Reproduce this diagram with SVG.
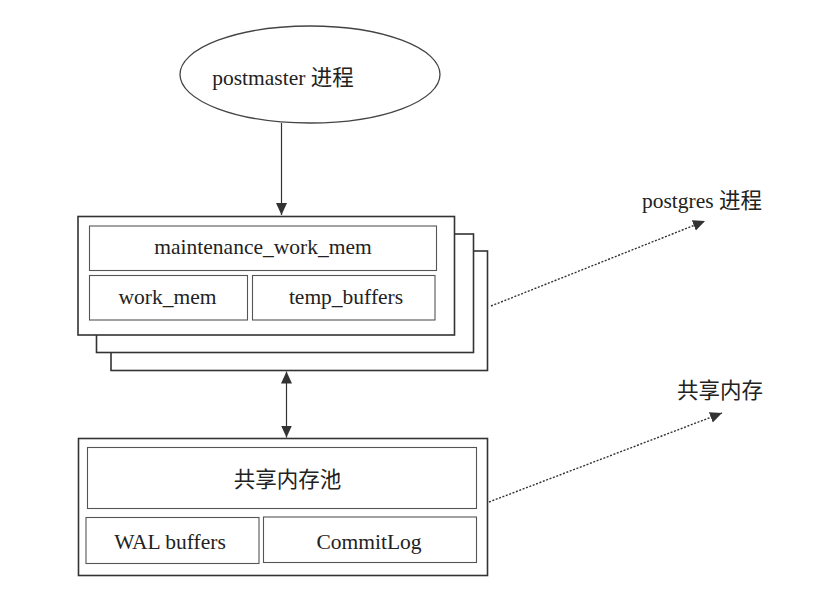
<svg xmlns="http://www.w3.org/2000/svg" width="815" height="591" viewBox="0 0 815 591">
<style>
  .t { font-family: "Liberation Serif", "Noto Sans CJK SC", serif; font-size: 21.5px; fill: #222; text-anchor: middle; }
  .outer { fill: #fff; stroke: #333; stroke-width: 1.6; }
  .inner { fill: #fff; stroke: #555; stroke-width: 1.1; }
  .conn { fill: none; stroke: #333; stroke-width: 1.2; }
  .dot { fill: none; stroke: #333; stroke-width: 1.4; stroke-dasharray: 2 1.6; }
</style>
<defs>
  <marker id="ah" markerUnits="userSpaceOnUse" markerWidth="12" markerHeight="12" viewBox="0 0 12 12" refX="12" refY="6" orient="auto-start-reverse">
    <path d="M0,0.5 L12,6 L0,11.5 Z" fill="#333"/>
  </marker>
</defs>
<rect width="815" height="591" fill="#fff"/>

<g id="postmaster">
  <ellipse cx="310" cy="74.5" rx="130" ry="48.5" fill="#fff" stroke="#444" stroke-width="1.3"/>
  <text class="t" x="283" y="85">postmaster 进程</text>
</g>

<g id="postgres-stack">
  <rect class="outer" x="111" y="251" width="376.5" height="119.5"/>
  <rect class="outer" x="96.5" y="234" width="377" height="118.5"/>
  <rect class="outer" x="78" y="216.5" width="376.5" height="118.5"/>
</g>
<g id="maintenance_work_mem">
  <rect class="inner" x="89.5" y="226" width="347" height="44.5"/>
  <text class="t" x="263" y="254">maintenance_work_mem</text>
</g>
<g id="work_mem">
  <rect class="inner" x="89.5" y="275.5" width="158" height="44.5"/>
  <text class="t" x="167.5" y="304">work_mem</text>
</g>
<g id="temp_buffers">
  <rect class="inner" x="252.5" y="275.5" width="182.5" height="44.5"/>
  <text class="t" x="346" y="304">temp_buffers</text>
</g>

<g id="shared-memory">
  <rect class="outer" x="78.5" y="438.5" width="409" height="137"/>
</g>
<g id="shared-pool">
  <rect class="inner" x="87.5" y="447.5" width="389" height="61"/>
  <text class="t" x="287.5" y="487">共享内存池</text>
</g>
<g id="wal-buffers">
  <rect class="inner" x="86" y="517.5" width="173" height="46"/>
  <text class="t" x="170" y="549">WAL buffers</text>
</g>
<g id="commitlog">
  <rect class="inner" x="263.5" y="517" width="213" height="45.5"/>
  <text class="t" x="369" y="549">CommitLog</text>
</g>

<g id="label-postgres">
  <text class="t" x="702" y="208">postgres 进程</text>
</g>
<g id="label-shared">
  <text class="t" x="720" y="398">共享内存</text>
</g>

<g id="connectors">
  <line class="conn" x1="281.5" y1="123" x2="281.5" y2="215" marker-end="url(#ah)"/>
  <line class="conn" x1="286.5" y1="371.5" x2="286.5" y2="437.5" marker-start="url(#ah)" marker-end="url(#ah)"/>
  <line class="dot" x1="491" y1="306" x2="705" y2="221" marker-end="url(#ah)"/>
  <line class="dot" x1="489" y1="502" x2="722" y2="413" marker-end="url(#ah)"/>
</g>
</svg>
